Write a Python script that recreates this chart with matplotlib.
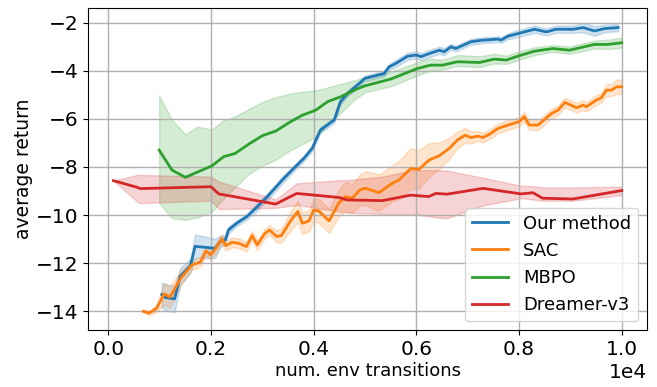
import matplotlib
matplotlib.use("Agg")
import matplotlib.pyplot as plt
import numpy as np

# -----------------------------
# Data (x = env transitions)
# -----------------------------
ours_x = [1040, 1100, 1290, 1400, 1600, 1690, 1890, 2080, 2180, 2280, 2340, 2500,
          2700, 2870, 3090, 3390, 3610, 3810, 3970, 4130, 4400, 4520, 4660, 4850,
          5000, 5240, 5370, 5470, 5600, 5830, 6000, 6090, 6250, 6450, 6540, 6670,
          6770, 7060, 7260, 7590, 7650, 7780, 7980, 8300, 8530, 8720, 9050, 9250,
          9470, 9670, 9930]
ours_y = [-13.30, -13.42, -13.48, -12.55, -12.10, -11.30, -11.34, -11.38, -11.10,
          -11.03, -10.62, -10.34, -10.06, -9.72, -9.25, -8.54, -8.06, -7.64, -7.23,
          -6.47, -6.05, -5.29, -4.95, -4.60, -4.32, -4.19, -4.12, -3.84, -3.70,
          -3.40, -3.35, -3.42, -3.29, -3.15, -3.22, -3.01, -3.08, -2.80, -2.74,
          -2.69, -2.73, -2.57, -2.46, -2.28, -2.39, -2.28, -2.28, -2.21, -2.35,
          -2.25, -2.21]
ours_sd = [0.50, 0.55, 0.55, 0.35, 0.30, 0.50, 0.45, 0.40, 0.25, 0.15, 0.15, 0.12,
           0.12, 0.15, 0.15, 0.15, 0.12, 0.12, 0.12, 0.12, 0.12, 0.12, 0.12, 0.12,
           0.12, 0.12, 0.12, 0.12, 0.15, 0.15, 0.15, 0.15, 0.15, 0.15, 0.15, 0.12,
           0.12, 0.12, 0.12, 0.12, 0.12, 0.12, 0.15, 0.15, 0.15, 0.15, 0.15, 0.20,
           0.20, 0.15, 0.15]

sac_x = [680, 800, 940, 1090, 1200, 1410, 1630, 1730, 1800, 1900, 1990, 2070, 2210,
         2290, 2410, 2540, 2690, 2800, 2900, 3050, 3140, 3280, 3370, 3480, 3550,
         3690, 3780, 3910, 4000, 4100, 4300, 4490, 4620, 4750, 4900, 5000, 5150,
         5270, 5530, 5660, 5890, 6050, 6250, 6450, 6640, 6800, 6950, 7060, 7200,
         7290, 7420, 7590, 7800, 8000, 8100, 8200, 8370, 8630, 8760, 8890, 9120,
         9250, 9310, 9510, 9600, 9700, 9800, 9900, 10000]
sac_y = [-14.00, -14.07, -13.87, -13.27, -13.41, -12.62, -12.07, -12.00, -11.93,
         -11.49, -11.65, -11.45, -10.99, -11.27, -11.13, -11.17, -11.31, -10.85,
         -11.24, -10.76, -10.62, -10.89, -10.85, -10.48, -10.24, -9.85, -10.34,
         -10.24, -9.79, -9.83, -10.24, -9.50, -9.23, -9.30, -8.96, -8.88, -8.98,
         -9.07, -8.68, -8.54, -8.07, -8.10, -7.71, -7.53, -7.23, -6.88, -6.68,
         -6.78, -6.72, -6.78, -6.65, -6.40, -6.25, -6.12, -5.91, -6.26, -6.26,
         -5.78, -5.64, -5.32, -5.54, -5.43, -5.50, -5.22, -5.13, -4.81, -4.81,
         -4.67, -4.67]
sac_sd = [0.05, 0.10, 0.15, 0.45, 0.45, 0.30, 0.20, 0.20, 0.20, 0.20, 0.20, 0.20,
          0.20, 0.20, 0.20, 0.20, 0.20, 0.20, 0.20, 0.20, 0.20, 0.25, 0.30, 0.35,
          0.40, 0.45, 0.45, 0.45, 0.45, 0.50, 0.50, 0.55, 0.60, 0.60, 0.65, 0.70,
          0.75, 0.75, 0.75, 0.80, 0.85, 0.80, 0.70, 0.55, 0.45, 0.35, 0.30, 0.25,
          0.20, 0.20, 0.20, 0.20, 0.20, 0.20, 0.20, 0.20, 0.20, 0.20, 0.20, 0.20,
          0.20, 0.20, 0.20, 0.20, 0.20, 0.25, 0.25, 0.30, 0.30]

mbpo_x = [990, 1240, 1500, 1730, 2020, 2250, 2470, 2730, 3000, 3260, 3550, 3780,
          4040, 4270, 4530, 4790, 4900, 5000, 5500, 6020, 6280, 6510, 6800, 7230,
          7520, 7750, 8000, 8300, 8660, 8980, 9470, 9730, 10000]
mbpo_y = [-7.30, -8.13, -8.43, -8.22, -7.95, -7.57, -7.44, -7.06, -6.70, -6.51,
          -6.12, -5.85, -5.64, -5.29, -5.08, -4.81, -4.71, -4.63, -4.35, -3.91,
          -3.77, -3.77, -3.63, -3.66, -3.52, -3.56, -3.38, -3.19, -3.08, -3.15,
          -2.91, -2.91, -2.84]
mbpo_lo = [-9.50, -10.13, -10.20, -10.10, -9.85, -9.30, -8.85, -8.30, -7.95, -7.70,
           -7.30, -7.05, -6.75, -6.25, -5.75, -5.20, -5.05, -4.90, -4.65, -4.20,
           -4.00, -3.95, -3.80, -3.85, -3.70, -3.72, -3.55, -3.35, -3.22, -3.30,
           -3.08, -3.10, -3.05]
mbpo_hi = [-5.02, -6.05, -6.65, -6.33, -6.44, -6.05, -5.90, -5.60, -5.30, -5.10,
           -4.95, -4.88, -4.82, -4.70, -4.55, -4.40, -4.32, -4.30, -4.05, -3.65,
           -3.50, -3.55, -3.35, -3.40, -3.30, -3.38, -3.20, -3.03, -2.94, -3.00,
           -2.75, -2.72, -2.62]

dreamer_x = [100, 570, 620, 2000, 2150, 3260, 3670, 4500, 4650, 5340, 5890, 6240,
             6380, 6600, 7300, 8040, 8270, 8460, 9050, 10000]
dreamer_y = [-8.57, -8.85, -8.90, -8.82, -9.12, -9.54, -9.10, -9.27, -9.37, -9.40,
             -9.17, -9.23, -9.10, -9.13, -8.89, -9.12, -9.07, -9.30, -9.33, -8.98]
dreamer_lo = [-8.57, -9.45, -9.50, -9.40, -9.75, -9.70, -9.58, -9.85, -9.90, -9.95,
              -9.95, -10.05, -10.10, -10.13, -9.60, -9.30, -9.35, -9.40, -9.40, -9.17]
dreamer_hi = [-8.57, -8.33, -8.33, -8.40, -8.60, -9.35, -8.68, -8.55, -8.55, -8.40,
              -8.15, -8.13, -8.13, -8.15, -8.45, -8.78, -8.80, -8.85, -8.85, -8.82]

# -----------------------------
# Plot
# -----------------------------
fig = plt.figure(figsize=(6.57, 3.87), dpi=100)
ax = fig.add_axes([0.134, 0.147, 0.851, 0.832])

c_ours, c_sac, c_mbpo, c_dreamer = "#1f77b4", "#ff7f0e", "#2ca02c", "#d62728"

ours_y_arr = np.array(ours_y)
sac_y_arr = np.array(sac_y)

ax.plot(ours_x, ours_y, color=c_ours, lw=2, label="Our method")
ax.fill_between(ours_x, ours_y_arr - ours_sd, ours_y_arr + ours_sd, color=c_ours, alpha=0.2)

ax.plot(sac_x, sac_y, color=c_sac, lw=2, label="SAC")
ax.fill_between(sac_x, sac_y_arr - sac_sd, sac_y_arr + sac_sd, color=c_sac, alpha=0.2)

ax.plot(mbpo_x, mbpo_y, color=c_mbpo, lw=2, label="MBPO")
ax.fill_between(mbpo_x, mbpo_lo, mbpo_hi, color=c_mbpo, alpha=0.2)

ax.plot(dreamer_x, dreamer_y, color=c_dreamer, lw=2, label="Dreamer-v3")
ax.fill_between(dreamer_x, dreamer_lo, dreamer_hi, color=c_dreamer, alpha=0.2)

ax.set_yticks([-14, -12, -10, -8, -6, -4, -2])
ax.set_xticks([0, 2000, 4000, 6000, 8000, 10000])
ax.ticklabel_format(axis="x", style="sci", scilimits=(0, 0))
ax.tick_params(labelsize=14.5)
ax.xaxis.get_offset_text().set_fontsize(14.5)
ax.set_xlabel("num. env transitions", fontsize=13, labelpad=2)
ax.set_ylabel("average return", fontsize=13.5, labelpad=2)
ax.grid(True, color="#b0b0b0", lw=1.0)
ax.legend(loc="lower right", fontsize=13, handlelength=2.0)

fig.savefig("out.png", dpi=100)
